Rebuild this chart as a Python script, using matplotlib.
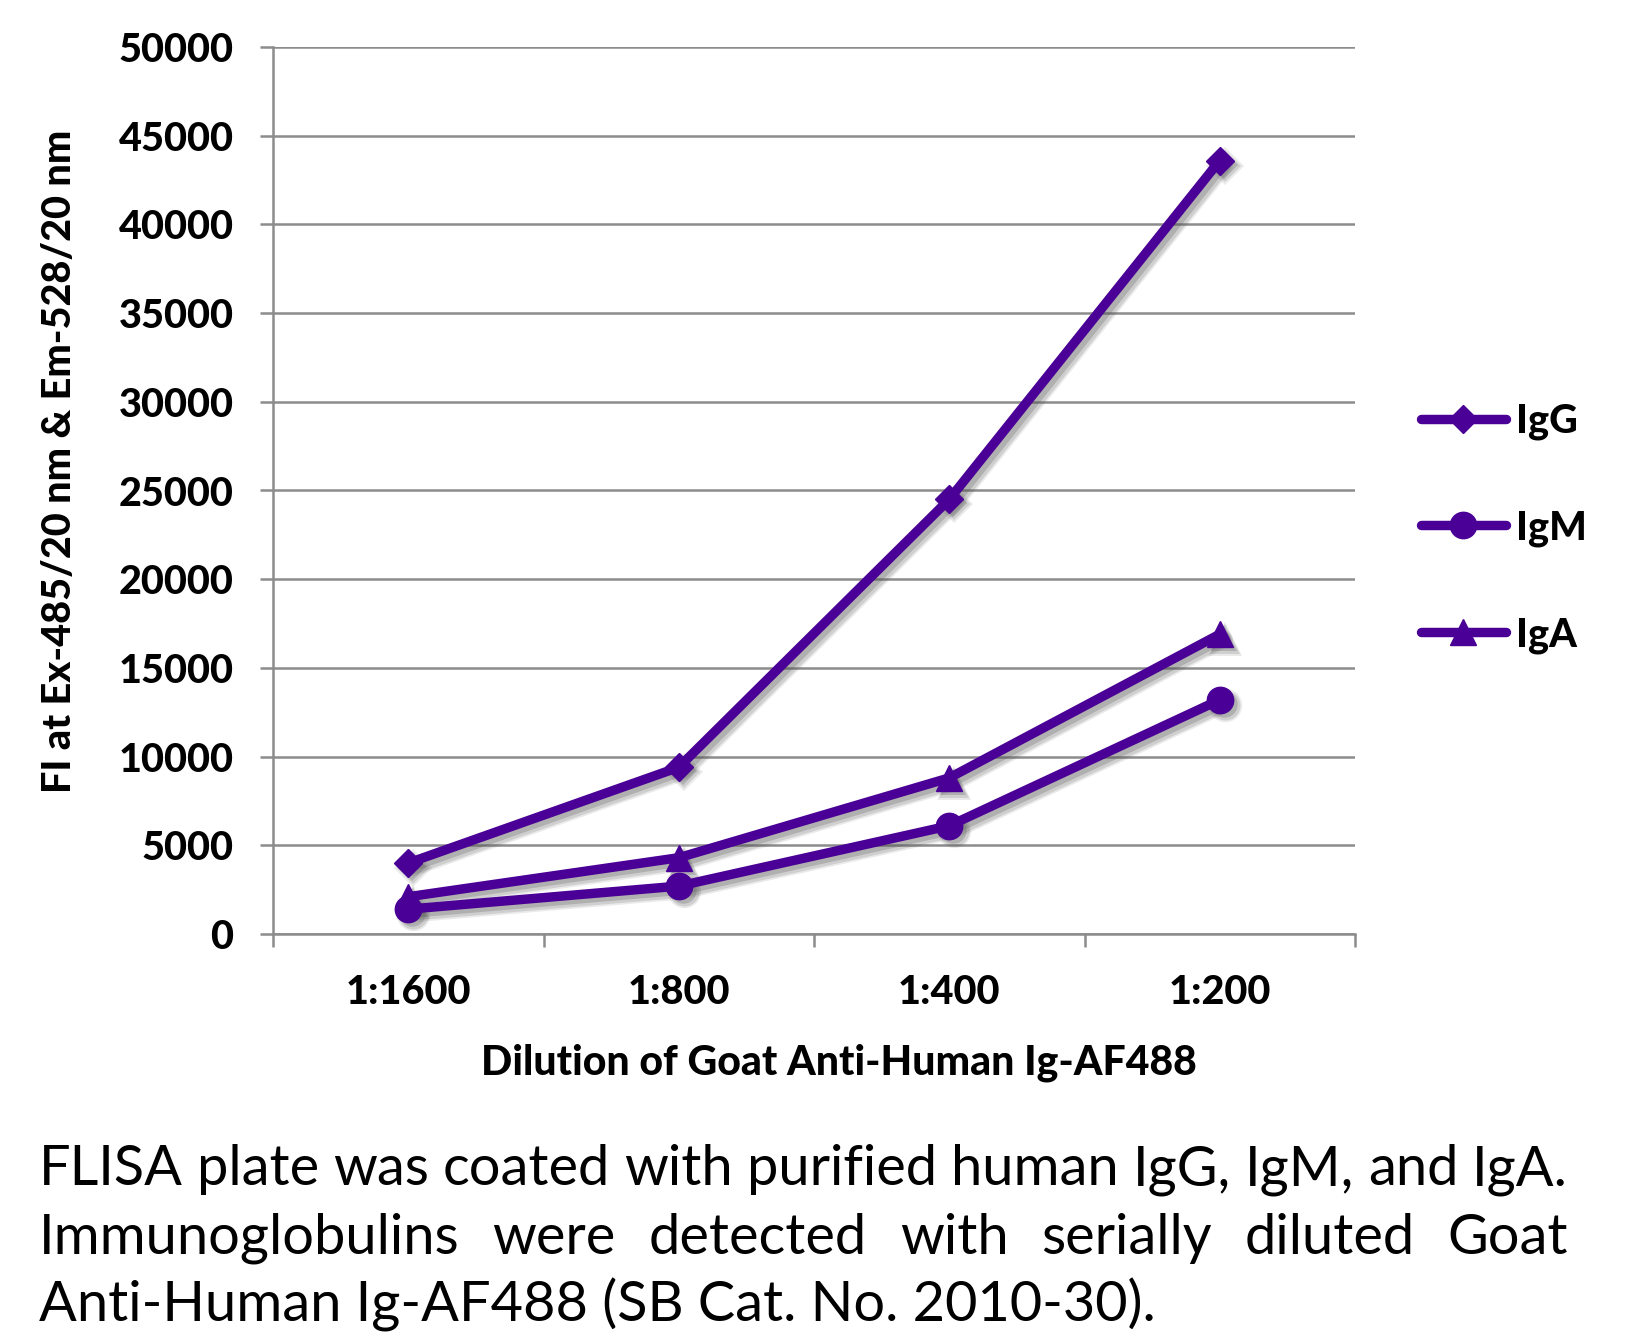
import matplotlib
matplotlib.use("Agg")
import matplotlib.pyplot as plt
import matplotlib.transforms as mtransforms

# ---------------------------------------------------------------------------
# data
# ---------------------------------------------------------------------------
dilutions = ["1:1600", "1:800", "1:400", "1:200"]
igg = [4000, 9400, 24500, 43600]
igm = [1400, 2700, 6100, 13200]
iga = [2100, 4300, 8800, 16900]
y_ticks = [0, 5000, 10000, 15000, 20000, 25000, 30000, 35000, 40000, 45000, 50000]

caption_lines = [
    "FLISA plate was coated with purified human IgG, IgM, and IgA.",
    "Immunoglobulins were detected with serially diluted Goat",
    "Anti-Human Ig-AF488 (SB Cat. No. 2010-30).",
]

# ---------------------------------------------------------------------------
W, H = 1626, 1337
purple = "#4a0096"
grid_c = "#8c8c8c"

plt.rcParams["font.family"] = ["Lato", "DejaVu Sans"]

fig = plt.figure(figsize=(W / 100, H / 100), dpi=100)
ax = fig.add_axes([273 / W, 1 - 934 / H, (1355 - 273) / W, (934 - 47) / H])

x = list(range(len(dilutions)))
series = [("IgG", igg, "D", 14), ("IgM", igm, "o", 19), ("IgA", iga, "^", 19)]

# soft drop shadow: a few offset grey copies under each line
for _, vals, mk, ms in series:
    for off, extra, a in [(5, 5, 0.12), (5, 2.5, 0.18), (4, 0, 0.25)]:
        tr = ax.transData + mtransforms.ScaledTranslation(off / 100, -off / 100,
                                                          fig.dpi_scale_trans)
        ax.plot(x, vals, color="#555555", alpha=a, lw=6.8 + extra, marker=mk,
                ms=ms + extra, mew=0, transform=tr, solid_capstyle="round",
                zorder=2)

for name, vals, mk, ms in series:
    ax.plot(x, vals, color=purple, lw=6.8, marker=mk, ms=ms, mec=purple,
            mfc=purple, label=name, solid_capstyle="round", zorder=3)

ax.set_xlim(-0.5, 3.5)
ax.set_ylim(0, 50000)
ax.set_yticks(y_ticks)
ax.set_yticklabels([str(v) for v in y_ticks], fontsize=28.5, fontweight="black")
ax.yaxis.grid(True, color=grid_c, lw=1.8)
ax.set_axisbelow(True)

ax.set_xticks([-0.5, 0.5, 1.5, 2.5, 3.5])
ax.set_xticklabels([])
ax.set_xticks(x, minor=True)
ax.set_xticklabels(dilutions, minor=True, fontsize=28.5, fontweight="black")
ax.tick_params(axis="x", which="major", length=9.5, width=1.8, color=grid_c, direction="out")
ax.tick_params(axis="x", which="minor", length=0, pad=29)
ax.tick_params(axis="y", length=9.5, width=1.8, color=grid_c, pad=19)

for s in ["top", "right"]:
    ax.spines[s].set_visible(False)
for s in ["left", "bottom"]:
    ax.spines[s].set_color(grid_c)
    ax.spines[s].set_linewidth(1.8)

fig.text(60 / W, 1 - 461 / H, "FI at Ex-485/20 nm & Em-528/20 nm", rotation=90,
         ha="center", va="center", fontsize=28.5, fontweight="black")
fig.text(839 / W, 1 - 1063 / H, "Dilution of Goat Anti-Human Ig-AF488",
         ha="center", va="center", fontsize=29.5, fontweight="black")

handles, labels = ax.get_legend_handles_labels()
leg = ax.legend(handles[-3:], labels[-3:], loc="center left",
                bbox_to_anchor=(1405 / W, 1 - 528 / H),
                bbox_transform=fig.transFigure, frameon=False,
                prop={"weight": "black", "size": 28.5}, handlelength=2.15,
                handletextpad=0.25, labelspacing=1.75, borderaxespad=0)

# caption: size the font so the first line fills the width, justify lines 1-2
left, right = 39, 1568
baselines = [1185, 1254, 1322]
renderer = fig.canvas.get_renderer()
probe = fig.text(0, 0, caption_lines[0], fontsize=40)
fs = min(44, 40 * (right - left) / probe.get_window_extent(renderer).width)
probe.remove()

for i, line in enumerate(caption_lines):
    yy = 1 - baselines[i] / H
    if i == 2:
        fig.text(left / W, yy, line, fontsize=fs, va="baseline", ha="left")
        continue
    words = line.split(" ")
    objs = [fig.text(0, yy, w, fontsize=fs, va="baseline", ha="left") for w in words]
    widths = [o.get_window_extent(renderer).width for o in objs]
    gap = (right - left - sum(widths)) / (len(words) - 1)
    xx = left
    for o, wd in zip(objs, widths):
        o.set_x(xx / W)
        xx += wd + gap

fig.savefig("out.png", dpi=100)
